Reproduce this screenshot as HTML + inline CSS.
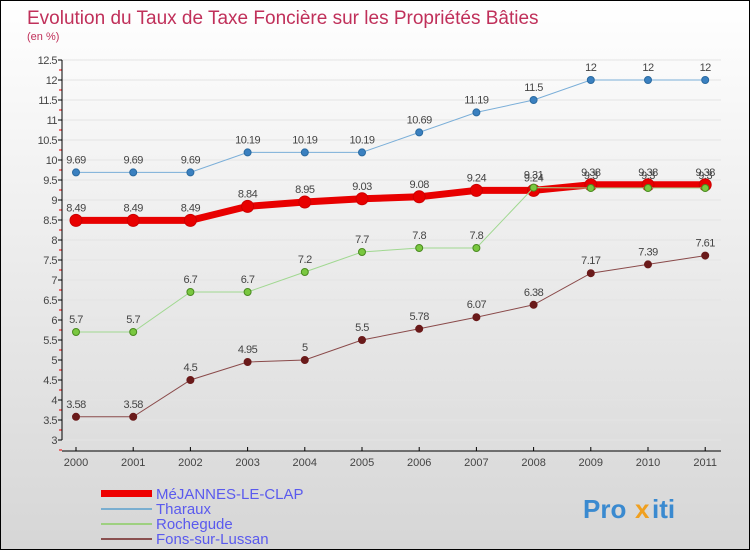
<!DOCTYPE html>
<html><head><meta charset="utf-8"><style>
body{margin:0;}
#c{width:748px;height:548px;border:1px solid #000;background:linear-gradient(#fff,#d6d6d6);position:relative;overflow:hidden;font-family:"Liberation Sans",sans-serif;}
</style></head><body>
<div id="c">
<svg id="s" width="748" height="548" xmlns="http://www.w3.org/2000/svg">
<text x="26" y="23" font-size="19" fill="#c0305a">Evolution du Taux de Taxe Foncière sur les Propriétés Bâties</text>
<text x="26" y="39" font-size="11" fill="#c0305a">(en %)</text>
<g id="grid"></g><g id="axes"></g><g id="series"></g>
<g>
<rect x="100" y="489" width="51" height="7" fill="#e00"/>
<text x="155" y="498" font-size="15" fill="#5a5aee">MéJANNES-LE-CLAP</text>
<rect x="100" y="507" width="51" height="2" fill="#7aaed0"/>
<text x="155" y="513" font-size="15" fill="#5a5aee">Tharaux</text>
<rect x="100" y="522" width="51" height="2" fill="#9ed080"/>
<text x="155" y="528" font-size="15" fill="#5a5aee">Rochegude</text>
<rect x="100" y="537" width="51" height="2" fill="#8a5050"/>
<text x="155" y="543" font-size="15" fill="#5a5aee">Fons-sur-Lussan</text>
</g>
<g font-size="26" font-weight="bold">
<text x="582" y="517" fill="#3a8ad0">Pro</text><text x="634" y="517" fill="#f0a020">x</text><text x="651" y="517" fill="#3a8ad0">iti</text>
</g>
</svg></div>
<script>
const years=[2000,2001,2002,2003,2004,2005,2006,2007,2008,2009,2010,2011];
const mejannes=[8.49,8.49,8.49,8.84,8.95,9.03,9.08,9.24,9.24,9.38,9.38,9.38];
const tharaux=[9.69,9.69,9.69,10.19,10.19,10.19,10.69,11.19,11.5,12,12,12];
const rochegude=[5.7,5.7,6.7,6.7,7.2,7.7,7.8,7.8,9.31,9.3,9.3,9.3];
const fons=[3.58,3.58,4.5,4.95,5,5.5,5.78,6.07,6.38,7.17,7.39,7.61];
const yTicks=[3,3.5,4,4.5,5,5.5,6,6.5,7,7.5,8,8.5,9,9.5,10,10.5,11,11.5,12,12.5];
const NS="http://www.w3.org/2000/svg";
const X=i=>75+i*57.2, Y=v=>439-(v-3)*40;
function mk(t,a,p){const e=document.createElementNS(NS,t);for(const k in a)e.setAttribute(k,a[k]);p.appendChild(e);return e;}
const grid=document.getElementById('grid'),axes=document.getElementById('axes'),ser=document.getElementById('series');
yTicks.forEach(v=>{
 const g=mk('line',{x1:61,x2:720,y1:Y(v),y2:Y(v),stroke:'#e4e4e4'},grid);
 
 
 mk('line',{x1:57,x2:61,y1:Y(v),y2:Y(v),stroke:'#000'},axes);
 mk('line',{x1:58,x2:61,y1:Y(v)+10,y2:Y(v)+10,stroke:'#e00'},axes);
 const t=mk('text',{x:56,y:Y(v)+4,'text-anchor':'end','font-size':11,fill:'#444','letter-spacing':'-0.5'},axes);
 t.textContent=v;
 
 
});
mk('line',{x1:61,x2:61,y1:Y(12.5),y2:Y(3),stroke:'#000'},axes);
mk('line',{x1:61,x2:720,y1:450,y2:450,stroke:'#000'},axes);
years.forEach((yr,i)=>{
 mk('line',{x1:X(i),x2:X(i),y1:446,y2:450,stroke:'#000'},axes);
 const t=mk('text',{x:X(i),y:465,'text-anchor':'middle','font-size':11,fill:'#444'},axes);
 t.textContent=yr;
 
 
});
function draw(name,data,color,w,r,dot,fill){
 const g=mk('g',{},ser);
 
 
 const l=mk('polyline',{points:data.map((v,i)=>X(i)+','+Y(v)).join(' '),fill:'none',stroke:color,'stroke-width':w},g);
 
 
 data.forEach((v,i)=>{
  const c=mk('circle',{cx:X(i),cy:Y(v),r:r,fill:dot,stroke:fill,'stroke-width':1},g);
  
  
  const t=mk('text',{x:X(i),y:Y(v)-9,'text-anchor':'middle','font-size':11,fill:'#444','letter-spacing':'-0.5'},g);
  t.textContent=v;
  
  
 });
}
draw('fons',fons,'#8a4a4a',1,3.5,'#6a1a1a','#6a1a1a');
draw('tharaux',tharaux,'#7aaed8',1,3.5,'#3a80c0','#2a6aa0');
draw('mejannes',mejannes,'#e80000',7,6,'#e80000','#c00');
draw('rochegude',rochegude,'#a0d890',1,3.5,'#7ac840','#4a8a20');
</script>
</body></html>
